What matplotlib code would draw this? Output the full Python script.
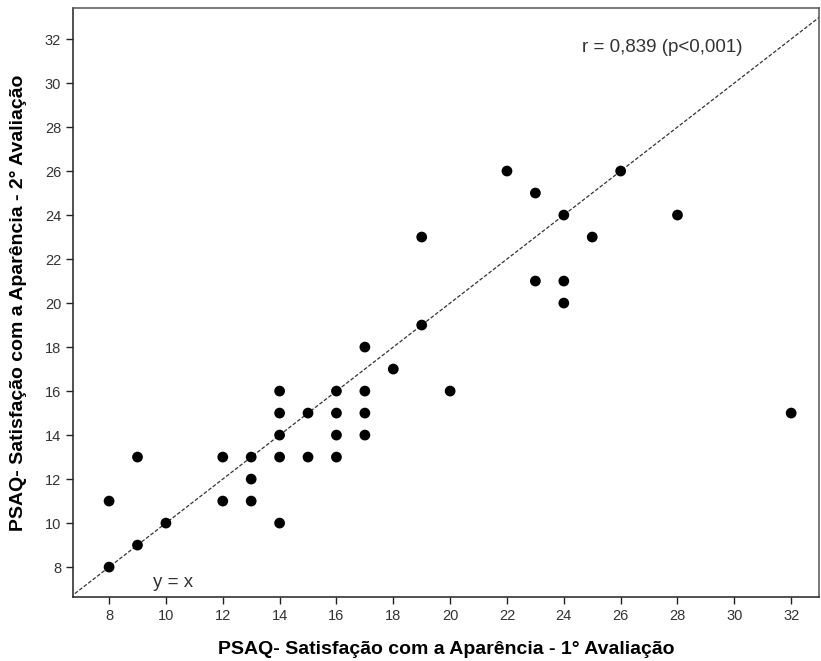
import numpy as np
from matplotlib import pyplot as plt

# PSAQ scores, 1st evaluation (x) vs 2nd evaluation (y)
aval1 = np.array([8, 8, 9, 9, 10, 12, 12, 13, 13, 13,
                  14, 14, 14, 14, 14, 15, 15, 16, 16, 16,
                  16, 17, 17, 17, 17, 18, 19, 19, 20, 22,
                  23, 23, 24, 24, 24, 25, 26, 28, 32])
aval2 = np.array([8, 11, 9, 13, 10, 11, 13, 11, 12, 13,
                  10, 13, 14, 15, 16, 13, 15, 13, 14, 15,
                  16, 14, 15, 16, 18, 17, 19, 23, 16, 26,
                  21, 25, 20, 21, 24, 23, 26, 24, 15])
ticks = np.arange(8, 33, 2)

plt.rcParams['font.family'] = ['Liberation Sans', 'DejaVu Sans']

fig = plt.figure(figsize=(8.21, 6.61), dpi=100)
ax = fig.add_axes([0.0889, 0.0968, 0.9087, 0.8911])

xlim = (6.73, 32.98)
ylim = (6.64, 33.41)
ax.set_xlim(xlim)
ax.set_ylim(ylim)

# identity line
lo = min(xlim[0], ylim[0])
hi = max(xlim[1], ylim[1])
ax.plot([lo, hi], [lo, hi], linestyle=(0, (3, 1.5)), color='#333333', linewidth=0.9, zorder=1)

ax.scatter(aval1, aval2, s=60, color='black', edgecolors='none', zorder=3)

ax.set_xticks(ticks)
ax.set_yticks(ticks)
ax.tick_params(direction='out', length=5, width=1, colors='#222222',
               labelsize=10.5, labelcolor='#333333')

for side in ['left', 'bottom']:
    ax.spines[side].set_color('#222222')
for side in ['top', 'right']:
    ax.spines[side].set_color('#555555')
for sp in ax.spines.values():
    sp.set_linewidth(1.1)

ax.text(9.55, 7.09, 'y = x', fontsize=13.5, color='#333333', va='baseline', ha='left')
ax.text(27.45, 31.6, 'r = 0,839 (p<0,001)', fontsize=13.5, color='#333333', va='center', ha='center')

ax.set_xlabel('PSAQ- Satisfação com a Aparência - 1° Avaliação', fontsize=14,
              fontweight='bold', labelpad=13)
ax.set_ylabel('PSAQ- Satisfação com a Aparência - 2° Avaliação', fontsize=14,
              fontweight='bold', labelpad=13)

fig.savefig('out.png', dpi=100)
